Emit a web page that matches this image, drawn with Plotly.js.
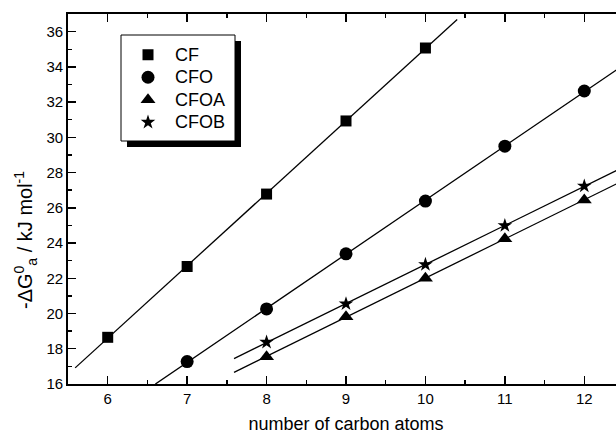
<!DOCTYPE html>
<html><head><meta charset="utf-8">
<script src="https://cdn.plot.ly/plotly-3.0.1.min.js"></script>
<style>html,body{margin:0;padding:0;overflow:hidden;background:#fff}</style>
</head><body><div id="chart"></div>
<script>
// ---- data ----
const seriesNames = ['CF', 'CFO', 'CFOA', 'CFOB'];
const xCF   = [6, 7, 8, 9, 10];
const yCF   = [18.65, 22.67, 26.78, 30.93, 35.07];
const xCFO  = [7, 8, 9, 10, 11, 12];
const yCFO  = [17.27, 20.26, 23.39, 26.38, 29.50, 32.63];
const xCFOA = [8, 9, 10, 11, 12];
const yCFOA = [17.55, 19.82, 22.00, 24.24, 26.45];
const xCFOB = [8, 9, 10, 11, 12];
const yCFOB = [18.37, 20.55, 22.78, 24.99, 27.23];
// extent of each linear fit line (x from, x to)
const fitStart = [5.59, 6.6, 7.59, 7.59];
const fitEnd   = [10.4, 12.5, 12.5, 12.5];
const xTickVals = [6, 7, 8, 9, 10, 11, 12];
const yTickVals = [16, 18, 20, 22, 24, 26, 28, 30, 32, 34, 36];
const xTitle = 'number of carbon atoms';
const yTitle = '-ΔG<sup>0</sup><sub>a</sub> / kJ mol<sup>-1</sup>';

const FONT = 'Liberation Sans, Arial, sans-serif';
const xs = [xCF, xCFO, xCFOA, xCFOB];
const ys = [yCF, yCFO, yCFOA, yCFOB];
const symbols = ['square', 'circle', 'triangle-up', 'star'];
const sizes = [11, 13, 13, 11];

function linfit(x, y) {
  const n = x.length;
  const mx = x.reduce((a, b) => a + b, 0) / n;
  const my = y.reduce((a, b) => a + b, 0) / n;
  let sxy = 0, sxx = 0;
  for (let i = 0; i < n; i++) { sxy += (x[i] - mx) * (y[i] - my); sxx += (x[i] - mx) ** 2; }
  const b = sxy / sxx;
  return { a: my - b * mx, b: b };
}

const traces = [];
for (let i = 0; i < 4; i++) {
  const f = linfit(xs[i], ys[i]);
  traces.push({
    x: [fitStart[i], fitEnd[i]],
    y: [f.a + f.b * fitStart[i], f.a + f.b * fitEnd[i]],
    mode: 'lines', line: { color: '#000', width: 1.3 },
    showlegend: false, hoverinfo: 'skip'
  });
}
for (let i = 0; i < 4; i++) {
  traces.push({
    x: xs[i], y: ys[i],
    name: '<span style="font-size:18px">' + seriesNames[i] + '</span>',
    mode: 'markers',
    marker: { symbol: symbols[i], size: sizes[i], color: '#000', line: { width: 0 } },
    cliponaxis: false
  });
}

const L = 68, T = 14, W = 624, H = 437, B = 53, R = 0;
const PW = W - L - R, PH = H - T - B;
const fx = p => (p - L) / PW;          // pixel x -> paper
const fy = p => (H - B - p) / PH;      // pixel y -> paper
const axisCommon = {
  showgrid: false, zeroline: false, showline: true, linecolor: '#000', linewidth: 1.8,
  mirror: 'ticks', ticks: 'inside', ticklen: 8, tickwidth: 1.4, tickcolor: '#000',
  tickfont: { family: FONT, size: 15, color: '#000' }
};
const layout = {
  width: W, height: H,
  margin: { l: L, r: R, t: T, b: B, pad: 0 },
  paper_bgcolor: '#fff', plot_bgcolor: '#fff',
  font: { family: FONT, color: '#000' },
  xaxis: Object.assign({}, axisCommon, {
    range: [5.5, 12.5], tickmode: 'array', tickvals: xTickVals,
    minor: { dtick: 0.5, tick0: 0, ticks: 'inside', ticklen: 4, tickwidth: 1.4, tickcolor: '#000', showgrid: false },
    title: { text: xTitle, font: { family: FONT, size: 18, color: '#000' }, standoff: 12 }
  }),
  yaxis: Object.assign({}, axisCommon, {
    range: [16, 37], tickmode: 'array', tickvals: yTickVals,
    minor: { dtick: 1, tick0: 0, ticks: 'inside', ticklen: 4, tickwidth: 1.4, tickcolor: '#000', showgrid: false }
  }),
  annotations: [{
    text: yTitle, textangle: -90, showarrow: false,
    xref: 'paper', yref: 'paper', x: fx(25), y: fy(240),
    xanchor: 'center', yanchor: 'middle',
    font: { family: FONT, size: 20, color: '#000' }
  }],
  shapes: [
    { type: 'rect', xref: 'paper', yref: 'paper', layer: 'below',
      x0: fx(127), x1: fx(241), y0: fy(147), y1: fy(41), fillcolor: '#000', line: { width: 0 } },
    { type: 'rect', xref: 'paper', yref: 'paper', layer: 'below',
      x0: fx(121), x1: fx(235), y0: fy(141), y1: fy(35), fillcolor: '#fff', line: { color: '#000', width: 1 } }
  ],
  legend: {
    x: fx(121), y: fy(38.5), xanchor: 'left', yanchor: 'top',
    bgcolor: 'rgba(0,0,0,0)', borderwidth: 0,
    font: { family: FONT, size: 15, color: '#000' }, itemwidth: 44, tracegroupgap: 0
  },
  showlegend: true
};

Plotly.newPlot('chart', traces, layout, { displayModeBar: false, staticPlot: true });
</script></body></html>
